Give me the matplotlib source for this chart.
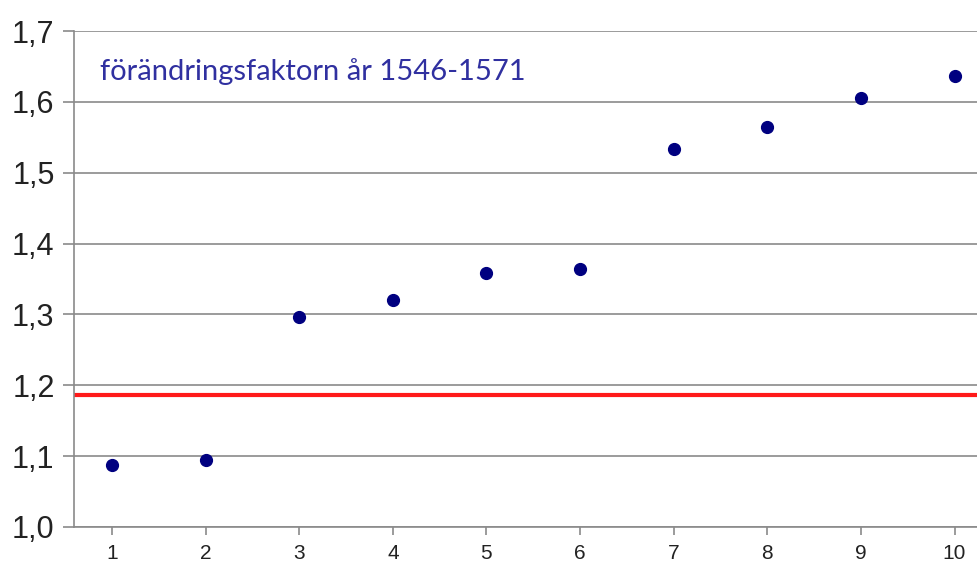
import matplotlib
matplotlib.use("Agg")
import matplotlib.pyplot as plt
from matplotlib.ticker import FuncFormatter

x_values = [1, 2, 3, 4, 5, 6, 7, 8, 9, 10]
y_values = [1.087, 1.095, 1.296, 1.320, 1.358, 1.364, 1.533, 1.564, 1.605, 1.637]
reference_level = 1.186
title_text = "förändringsfaktorn år 1546-1571"
y_ticks = [1.0, 1.1, 1.2, 1.3, 1.4, 1.5, 1.6, 1.7]

fig = plt.figure(figsize=(9.77, 5.70), dpi=100)
ax = fig.add_axes([74/977, 1 - 527/570, 1 - 74/977, (527 - 31)/570])

ax.set_xlim(0.594, 10.24)
ax.set_ylim(1.0, 1.7)
ax.set_yticks(y_ticks)
ax.set_xticks(x_values)
ax.yaxis.set_major_formatter(FuncFormatter(lambda v, p: f"{v:.1f}".replace(".", ",")))

ax.grid(axis="y", color="#8a8a8a", linewidth=1.2)
ax.set_axisbelow(True)
for s in ["top", "right"]:
    ax.spines[s].set_visible(False)
for s in ["left", "bottom"]:
    ax.spines[s].set_color("#8a8a8a")
    ax.spines[s].set_linewidth(1.2)

ax.tick_params(axis="y", length=8, width=1.2, color="#8a8a8a", labelsize=22,
               labelcolor="#222222", pad=6)
ax.tick_params(axis="x", length=6, width=1.2, color="#8a8a8a", labelsize=15,
               labelcolor="#222222", pad=6)
for lab in ax.get_yticklabels() + ax.get_xticklabels():
    lab.set_fontfamily("Liberation Sans")

ax.axhline(reference_level, color="#ff1a1a", linewidth=3.0, zorder=2)
ax.plot(x_values, y_values, linestyle="none", marker="o", markersize=8.5,
        color="#000080", zorder=3)

fig.text(100/977, 1 - 72/570, title_text, fontsize=21, color="#3030a0",
         family="Lato", va="center", ha="left")

fig.savefig("out.png", dpi=100)
